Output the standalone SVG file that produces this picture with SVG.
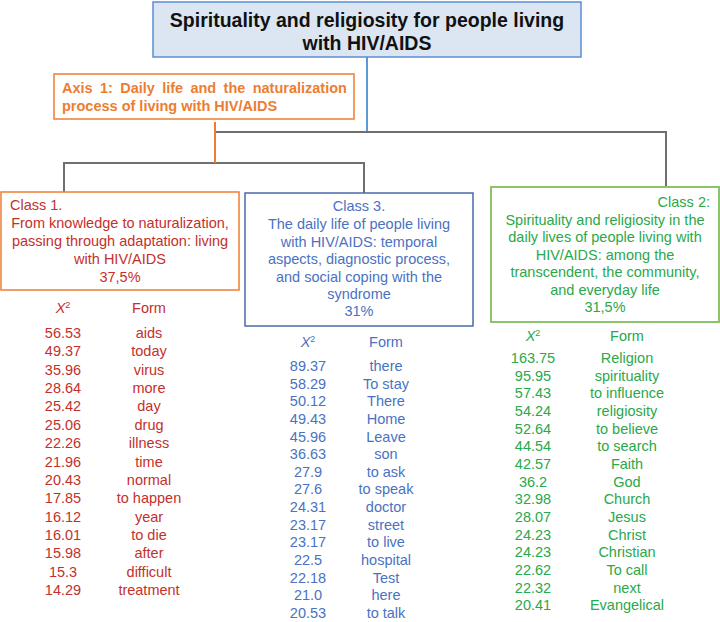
<svg xmlns="http://www.w3.org/2000/svg" width="720" height="622" viewBox="0 0 720 622">
<style>
text{font-family:"Liberation Sans",Arial,sans-serif;font-size:14.5px}
.t{font-size:19.5px;font-weight:bold;fill:#111;text-anchor:middle}
.ax{font-weight:bold;fill:#ed7d31}
.c1{fill:#c4302b}
.c3{fill:#4a72c2}
.c2{fill:#2aa84a}
.m{text-anchor:middle}
.conn{fill:none;stroke-width:2}
</style>
<rect width="720" height="622" fill="#fff"/>
<g id="connectors">
<path class="conn" d="M367,57 V132" stroke="#5b9bd5" stroke-width="1.5"/>
<path class="conn" d="M215,132 H666 V187" stroke="#6f6f6f"/>
<path class="conn" d="M64,192 V163 H364 V193" stroke="#6f6f6f"/>
<path class="conn" d="M215,122 V163" stroke="#ed7d31"/>
</g>
<g id="title">
<rect x="153" y="2" width="428" height="55" fill="#dce6f2" stroke="#5b8ed6" stroke-width="1.5"/>
<text class="t" x="367" y="27">Spirituality and religiosity for people living</text>
<text class="t" x="367" y="50">with HIV/AIDS</text>
</g>
<g id="axis1">
<rect x="54" y="74" width="300" height="45" fill="#fff" stroke="#ed7d31" stroke-width="1.5"/>
<text class="ax" x="62" y="93" style="word-spacing:3.3px">Axis 1: Daily life and the naturalization</text>
<text class="ax" x="62" y="111">process of living with HIV/AIDS</text>
</g>
<g id="class1">
<rect x="1" y="192" width="238" height="98" fill="#fff" stroke="#ed7d31" stroke-width="1.5"/>
<text class="c1" x="10" y="210">Class 1.</text>
<text class="c1 m" x="120" y="228">From knowledge to naturalization,</text>
<text class="c1 m" x="120" y="246">passing through adaptation: living</text>
<text class="c1 m" x="120" y="264">with HIV/AIDS</text>
<text class="c1 m" x="120" y="282">37,5%</text>
</g>
<g id="class3">
<rect x="245" y="193" width="228" height="133" fill="#fff" stroke="#4a6aa8" stroke-width="1.5"/>
<text class="c3 m" x="359" y="211">Class 3.</text>
<text class="c3 m" x="359" y="229">The daily life of people living</text>
<text class="c3 m" x="359" y="247">with HIV/AIDS: temporal</text>
<text class="c3 m" x="359" y="264">aspects, diagnostic process,</text>
<text class="c3 m" x="359" y="282">and social coping with the</text>
<text class="c3 m" x="359" y="299">syndrome</text>
<text class="c3 m" x="359" y="316">31%</text>
</g>
<g id="class2">
<rect x="491" y="187" width="228" height="135" fill="#fff" stroke="#8cc46e" stroke-width="2"/>
<text class="c2" x="710" y="207" text-anchor="end">Class 2:</text>
<text class="c2 m" x="605" y="225">Spirituality and religiosity in the</text>
<text class="c2 m" x="605" y="242">daily lives of people living with</text>
<text class="c2 m" x="605" y="260">HIV/AIDS: among the</text>
<text class="c2 m" x="605" y="277">transcendent, the community,</text>
<text class="c2 m" x="605" y="295">and everyday life</text>
<text class="c2 m" x="605" y="312">31,5%</text>
</g>
<g id="table1">
<text class="c1 m" x="63" y="313"><tspan font-style="italic">X</tspan><tspan font-size="9" dy="-5">2</tspan></text>
<text class="c1 m" x="149" y="313">Form</text>
<text class="c1 m" x="63" y="338">56.53</text><text class="c1 m" x="149" y="338">aids</text>
<text class="c1 m" x="63" y="356">49.37</text><text class="c1 m" x="149" y="356">today</text>
<text class="c1 m" x="63" y="375">35.96</text><text class="c1 m" x="149" y="375">virus</text>
<text class="c1 m" x="63" y="393">28.64</text><text class="c1 m" x="149" y="393">more</text>
<text class="c1 m" x="63" y="411">25.42</text><text class="c1 m" x="149" y="411">day</text>
<text class="c1 m" x="63" y="430">25.06</text><text class="c1 m" x="149" y="430">drug</text>
<text class="c1 m" x="63" y="448">22.26</text><text class="c1 m" x="149" y="448">illness</text>
<text class="c1 m" x="63" y="467">21.96</text><text class="c1 m" x="149" y="467">time</text>
<text class="c1 m" x="63" y="485">20.43</text><text class="c1 m" x="149" y="485">normal</text>
<text class="c1 m" x="63" y="503">17.85</text><text class="c1 m" x="149" y="503">to happen</text>
<text class="c1 m" x="63" y="522">16.12</text><text class="c1 m" x="149" y="522">year</text>
<text class="c1 m" x="63" y="540">16.01</text><text class="c1 m" x="149" y="540">to die</text>
<text class="c1 m" x="63" y="558">15.98</text><text class="c1 m" x="149" y="558">after</text>
<text class="c1 m" x="63" y="577">15.3</text><text class="c1 m" x="149" y="577">difficult</text>
<text class="c1 m" x="63" y="595">14.29</text><text class="c1 m" x="149" y="595">treatment</text>
</g>
<g id="table3">
<text class="c3 m" x="308" y="347"><tspan font-style="italic">X</tspan><tspan font-size="9" dy="-5">2</tspan></text>
<text class="c3 m" x="386" y="347">Form</text>
<text class="c3 m" x="308" y="371">89.37</text><text class="c3 m" x="386" y="371">there</text>
<text class="c3 m" x="308" y="389">58.29</text><text class="c3 m" x="386" y="389">To stay</text>
<text class="c3 m" x="308" y="406">50.12</text><text class="c3 m" x="386" y="406">There</text>
<text class="c3 m" x="308" y="424">49.43</text><text class="c3 m" x="386" y="424">Home</text>
<text class="c3 m" x="308" y="442">45.96</text><text class="c3 m" x="386" y="442">Leave</text>
<text class="c3 m" x="308" y="459">36.63</text><text class="c3 m" x="386" y="459">son</text>
<text class="c3 m" x="308" y="477">27.9</text><text class="c3 m" x="386" y="477">to ask</text>
<text class="c3 m" x="308" y="494">27.6</text><text class="c3 m" x="386" y="494">to speak</text>
<text class="c3 m" x="308" y="512">24.31</text><text class="c3 m" x="386" y="512">doctor</text>
<text class="c3 m" x="308" y="530">23.17</text><text class="c3 m" x="386" y="530">street</text>
<text class="c3 m" x="308" y="547">23.17</text><text class="c3 m" x="386" y="547">to live</text>
<text class="c3 m" x="308" y="565">22.5</text><text class="c3 m" x="386" y="565">hospital</text>
<text class="c3 m" x="308" y="583">22.18</text><text class="c3 m" x="386" y="583">Test</text>
<text class="c3 m" x="308" y="600">21.0</text><text class="c3 m" x="386" y="600">here</text>
<text class="c3 m" x="308" y="618">20.53</text><text class="c3 m" x="386" y="618">to talk</text>
</g>
<g id="table2">
<text class="c2 m" x="533" y="341"><tspan font-style="italic">X</tspan><tspan font-size="9" dy="-5">2</tspan></text>
<text class="c2 m" x="627" y="341">Form</text>
<text class="c2 m" x="533" y="363">163.75</text><text class="c2 m" x="627" y="363">Religion</text>
<text class="c2 m" x="533" y="381">95.95</text><text class="c2 m" x="627" y="381">spirituality</text>
<text class="c2 m" x="533" y="398">57.43</text><text class="c2 m" x="627" y="398">to influence</text>
<text class="c2 m" x="533" y="416">54.24</text><text class="c2 m" x="627" y="416">religiosity</text>
<text class="c2 m" x="533" y="434">52.64</text><text class="c2 m" x="627" y="434">to believe</text>
<text class="c2 m" x="533" y="451">44.54</text><text class="c2 m" x="627" y="451">to search</text>
<text class="c2 m" x="533" y="469">42.57</text><text class="c2 m" x="627" y="469">Faith</text>
<text class="c2 m" x="533" y="487">36.2</text><text class="c2 m" x="627" y="487">God</text>
<text class="c2 m" x="533" y="504">32.98</text><text class="c2 m" x="627" y="504">Church</text>
<text class="c2 m" x="533" y="522">28.07</text><text class="c2 m" x="627" y="522">Jesus</text>
<text class="c2 m" x="533" y="540">24.23</text><text class="c2 m" x="627" y="540">Christ</text>
<text class="c2 m" x="533" y="557">24.23</text><text class="c2 m" x="627" y="557">Christian</text>
<text class="c2 m" x="533" y="575">22.62</text><text class="c2 m" x="627" y="575">To call</text>
<text class="c2 m" x="533" y="593">22.32</text><text class="c2 m" x="627" y="593">next</text>
<text class="c2 m" x="533" y="610">20.41</text><text class="c2 m" x="627" y="610">Evangelical</text>
</g>
</svg>
